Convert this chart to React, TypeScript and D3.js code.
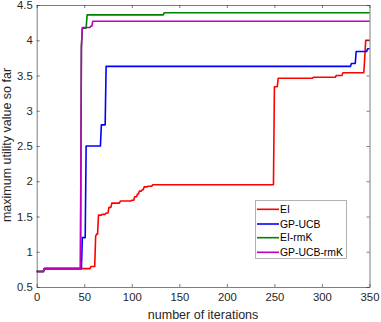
import React, { useEffect, useRef } from "react";
import * as d3 from "d3";

// change points: [iteration, best value so far]
const eiSteps: [number, number][] = [
  [0, 0.72], [8, 0.76], [57, 0.79], [62, 1.22], [63, 1.25], [65, 1.52], [69, 1.53],
  [73, 1.55], [76, 1.63], [79, 1.69], [88, 1.72], [100, 1.73], [103, 1.78], [106, 1.82],
  [108, 1.86], [111, 1.88], [113, 1.92], [117, 1.93], [122, 1.95], [250, 3.34],
  [254, 3.46], [291, 3.475], [315, 3.5], [322, 3.54], [345, 3.75], [346, 4.0], [350, 4.0],
];
const ucbSteps: [number, number][] = [
  [0, 0.72], [8, 0.76], [48, 1.2], [52, 2.5], [68, 2.8], [73, 3.63], [331, 3.67],
  [336, 3.84], [348, 3.88], [350, 3.88],
];
const eiRmkSteps: [number, number][] = [
  [0, 0.72], [8, 0.76], [47, 3.9], [48, 4.17], [53, 4.36], [134, 4.39], [350, 4.39],
];
const ucbRmkSteps: [number, number][] = [
  [0, 0.72], [8, 0.76], [47, 3.9], [48, 4.18], [57, 4.2], [59, 4.27], [350, 4.27],
];

const seriesNames = ["EI", "GP-UCB", "EI-rmK", "GP-UCB-rmK"];
const seriesColors = ["#ff0000", "#0000ff", "#008000", "#c000c0"];
const seriesSteps = [eiSteps, ucbSteps, eiRmkSteps, ucbRmkSteps];

const xTicks = [0, 50, 100, 150, 200, 250, 300, 350];
const yTicks = [0.5, 1, 1.5, 2, 2.5, 3, 3.5, 4, 4.5];

const W = 381;
const H = 322;
const FONT = "'Liberation Sans', Arial, sans-serif";

// expand change points into per-iteration line vertices
const toPoints = (steps: [number, number][]) => {
  const pts: [number, number][] = [];
  steps.forEach((s, i) => {
    if (i > 0 && s[0] - 1 > steps[i - 1][0]) pts.push([s[0] - 1, steps[i - 1][1]]);
    pts.push(s);
  });
  return pts;
};

const App = () => {
  const svgRef = useRef<SVGSVGElement>(null);

  useEffect(() => {
    const svg = d3.select(svgRef.current);
    svg.selectAll("*").remove();

    const x = d3.scaleLinear().domain([0, 350]).range([36.7, 369.5]);
    const y = d3.scaleLinear().domain([0.5, 4.5]).range([287, 5]);

    svg.append("rect")
      .attr("x", x(0)).attr("y", y(4.5))
      .attr("width", x(350) - x(0)).attr("height", y(0.5) - y(4.5))
      .attr("fill", "#fff");

    const line = d3.line<[number, number]>()
      .x((d) => x(d[0]))
      .y((d) => y(d[1]));

    seriesSteps.forEach((steps, i) => {
      svg.append("path")
        .datum(toPoints(steps))
        .attr("d", line)
        .attr("fill", "none")
        .attr("stroke", seriesColors[i])
        .attr("stroke-width", 1.6)
        .attr("stroke-linejoin", "round");
    });

    const styleAxis = (g: any) => {
      g.select(".domain").attr("stroke", "#262626").attr("stroke-width", 0.6);
      g.selectAll(".tick line").attr("stroke", "#262626").attr("stroke-width", 0.6);
      g.selectAll(".tick text")
        .attr("fill", "#262626")
        .style("font-family", FONT)
        .style("font-size", "11.3px");
    };

    svg.append("g")
      .attr("transform", `translate(0,${y(0.5)})`)
      .call(d3.axisBottom(x).tickValues(xTicks).tickSize(-3).tickSizeOuter(0).tickPadding(6))
      .call(styleAxis);
    svg.append("g")
      .attr("transform", `translate(0,${y(4.5)})`)
      .call(d3.axisTop(x).tickValues(xTicks).tickSize(-3).tickSizeOuter(0).tickFormat(() => ""))
      .call(styleAxis);
    svg.append("g")
      .attr("transform", `translate(${x(0)},0)`)
      .call(d3.axisLeft(y).tickValues(yTicks).tickSize(-3).tickSizeOuter(0).tickPadding(4).tickFormat(d3.format("")))
      .call(styleAxis);
    svg.append("g")
      .attr("transform", `translate(${x(350)},0)`)
      .call(d3.axisRight(y).tickValues(yTicks).tickSize(-3).tickSizeOuter(0).tickFormat(() => ""))
      .call(styleAxis);

    svg.append("text")
      .attr("x", (x(0) + x(350)) / 2)
      .attr("y", 319)
      .attr("text-anchor", "middle")
      .attr("fill", "#262626")
      .style("font-family", FONT)
      .style("font-size", "12.5px")
      .text("number of iterations");

    svg.append("text")
      .attr("transform", `translate(11,145) rotate(-90)`)
      .attr("text-anchor", "middle")
      .attr("fill", "#262626")
      .style("font-family", FONT)
      .style("font-size", "12.5px")
      .text("maximum utility value so far");

    // Legend
    const legend = svg.append("g");
    legend.append("rect")
      .attr("x", 255.5).attr("y", 200.5)
      .attr("width", 91).attr("height", 58)
      .attr("fill", "#fff")
      .attr("stroke", "#a0a0a0")
      .attr("stroke-width", 0.8);
    const rowsY = [209.3, 224, 237.7, 252.3];
    seriesNames.forEach((name, i) => {
      legend.append("line")
        .attr("x1", 257).attr("x2", 279)
        .attr("y1", rowsY[i]).attr("y2", rowsY[i])
        .attr("stroke", seriesColors[i])
        .attr("stroke-width", 1.6);
      legend.append("text")
        .attr("x", 280)
        .attr("y", rowsY[i])
        .attr("dy", "0.35em")
        .attr("fill", "#000")
        .style("font-family", FONT)
        .style("font-size", "10.4px")
        .text(name);
    });
  }, []);

  return (
    <div style={{ position: "absolute", left: 0, top: 0 }}>
      <svg ref={svgRef} width={W} height={H} style={{ display: "block", background: "#fff" }} />
    </div>
  );
};

export default App;
